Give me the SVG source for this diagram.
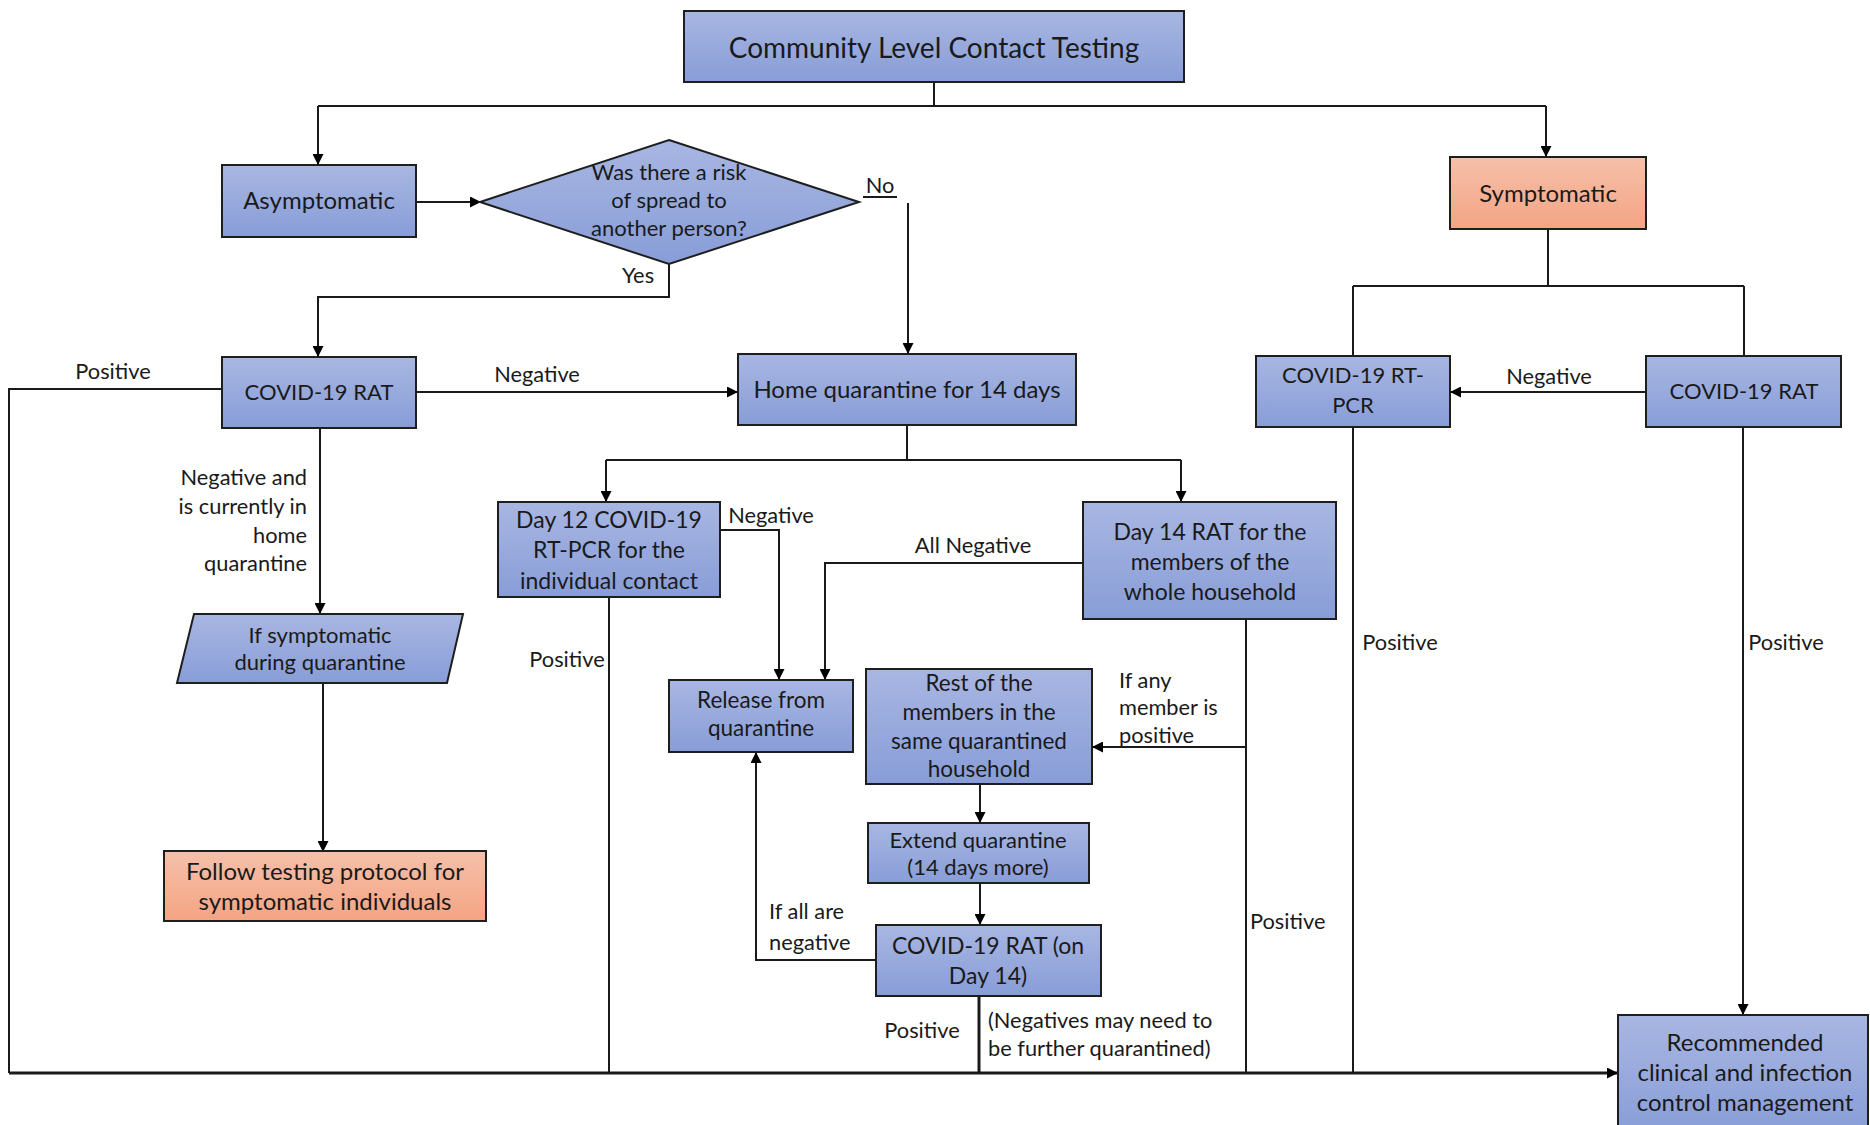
<svg xmlns="http://www.w3.org/2000/svg" width="1870" height="1125" viewBox="0 0 1870 1125">
  <defs>
    <linearGradient id="blueFill" x1="0" y1="0" x2="0" y2="1">
      <stop offset="0" stop-color="#a8b6e2"/>
      <stop offset="1" stop-color="#889dd7"/>
    </linearGradient>
    <linearGradient id="salmonFill" x1="0" y1="0" x2="0" y2="1">
      <stop offset="0" stop-color="#f6c0aa"/>
      <stop offset="1" stop-color="#f4a484"/>
    </linearGradient>
    <marker id="arrow" viewBox="0 0 10 10" refX="10" refY="5" markerWidth="11" markerHeight="11" markerUnits="userSpaceOnUse" orient="auto">
      <path d="M0,0 L10,5 L0,10 z" fill="#000"/>
    </marker>
  </defs>
  <style>
    .box { fill: url(#blueFill); stroke: #1e1e1e; stroke-width: 2; }
    .warm { fill: url(#salmonFill); stroke: #1e1e1e; stroke-width: 2; }
    .t { font-family: Lato, "Liberation Sans", sans-serif; font-size: 24px; fill: #1a1a1a; text-anchor: middle; dominant-baseline: central; }
    .title { font-size: 28px; }
    .s22 { font-size: 22px; }
    .s225 { font-size: 22.5px; }
    .s23 { font-size: 23px; }
    .lbl { font-family: Lato, "Liberation Sans", sans-serif; font-size: 21.8px; fill: #1a1a1a; dominant-baseline: central; }
    .mid { text-anchor: middle; }
    .end { text-anchor: end; }
    .line { fill: none; stroke: #1a1a1a; stroke-width: 2; }
    .thick { fill: none; stroke: #1a1a1a; stroke-width: 3; }
    .arr { marker-end: url(#arrow); }
  </style>

  <rect width="1870" height="1125" fill="#ffffff"/>

  <!-- connectors -->
  <g id="connectors">
    <path class="line" d="M934,82 V106"/>
    <path class="line" d="M318,106 H1546"/>
    <path class="line arr" d="M318,106 V165"/>
    <path class="line arr" d="M1546,106 V157"/>

    <path class="line arr" d="M416,202 H481"/>
    <path class="line" d="M863,197 H897"/>
    <path class="line arr" d="M908,203 V354"/>
    <path class="line arr" d="M669,264 V297 H318 V357"/>

    <path class="line arr" d="M416,392 H738"/>
    <path class="line" d="M222,389 H9 V1073"/>
    <path class="thick arr" d="M9,1073 H1618"/>
    <path class="line arr" d="M320,428 V614"/>
    <path class="line arr" d="M323,683 V852"/>

    <path class="line" d="M907,425 V460"/>
    <path class="line" d="M606,460 H1181"/>
    <path class="line arr" d="M606,460 V502"/>
    <path class="line arr" d="M1181,460 V502"/>

    <path class="line arr" d="M720,530 H779 V680"/>
    <path class="line" d="M609,597 V1073"/>
    <path class="line arr" d="M1083,563 H825 V680"/>
    <path class="line" d="M1246,619 V1073"/>
    <path class="line arr" d="M1246,747 H1092"/>

    <path class="line arr" d="M980,784 V823"/>
    <path class="line arr" d="M980,883 V925"/>
    <path class="line arr" d="M876,960 H756 V752"/>
    <path class="thick" d="M979,996 V1073"/>

    <path class="line" d="M1548,229 V286"/>
    <path class="line" d="M1353,286 H1744"/>
    <path class="line" d="M1353,286 V356"/>
    <path class="line" d="M1744,286 V356"/>
    <path class="line arr" d="M1646,392 H1450"/>
    <path class="line" d="M1353,427 V1073"/>
    <path class="line arr" d="M1743,427 V1015"/>
  </g>

  <!-- connector labels -->
  <g id="labels">
    <text class="lbl mid" x="880" y="184.5">No</text>
    <text class="lbl mid" x="638" y="274.5">Yes</text>
    <text class="lbl mid" x="113" y="370.5">Positive</text>
    <text class="lbl mid" x="537" y="373.5">Negative</text>
    <text class="lbl end" x="307" y="476.5">Negative and</text>
    <text class="lbl end" x="307" y="505.5">is currently in</text>
    <text class="lbl end" x="307" y="534.5">home</text>
    <text class="lbl end" x="307" y="562.5">quarantine</text>
    <text class="lbl mid" x="567" y="658.5">Positive</text>
    <text class="lbl mid" x="771" y="514.5">Negative</text>
    <text class="lbl mid" x="973" y="544.5">All Negative</text>
    <text class="lbl" x="1119" y="679">If any</text>
    <text class="lbl" x="1119" y="706">member is</text>
    <text class="lbl" x="1119" y="734">positive</text>
    <text class="lbl" x="769" y="910.5">If all are</text>
    <text class="lbl" x="769" y="941.5">negative</text>
    <text class="lbl mid" x="922" y="1029.5">Positive</text>
    <text class="lbl" x="988" y="1019.5">(Negatives may need to</text>
    <text class="lbl" x="988" y="1047.5">be further quarantined)</text>
    <text class="lbl" x="1250" y="920.5">Positive</text>
    <text class="lbl mid" x="1400" y="641.5">Positive</text>
    <text class="lbl mid" x="1786" y="641.5">Positive</text>
    <text class="lbl mid" x="1549" y="375.5">Negative</text>
  </g>

  <!-- nodes -->
  <g id="n-title">
    <rect class="box" x="684" y="11" width="500" height="71"/>
    <text class="t title" x="934" y="46.5">Community Level Contact Testing</text>
  </g>
  <g id="n-asymptomatic">
    <rect class="box" x="222" y="165" width="194" height="72"/>
    <text class="t" x="319" y="199.5">Asymptomatic</text>
  </g>
  <g id="n-risk">
    <polygon class="box" points="669,140 859,202 669,264 480,202"/>
    <text class="t s22" x="669" y="171.5">Was there a risk</text>
    <text class="t s22" x="669" y="199.5">of spread to</text>
    <text class="t s22" x="669" y="227.5">another person?</text>
  </g>
  <g id="n-symptomatic">
    <rect class="warm" x="1450" y="157" width="196" height="72"/>
    <text class="t" x="1548" y="192">Symptomatic</text>
  </g>
  <g id="n-rat-left">
    <rect class="box" x="222" y="357" width="194" height="71"/>
    <text class="t s22" x="319" y="391">COVID-19 RAT</text>
  </g>
  <g id="n-home-quarantine">
    <rect class="box" x="738" y="354" width="338" height="71"/>
    <text class="t" x="907" y="388">Home quarantine for 14 days</text>
  </g>
  <g id="n-rtpcr-right">
    <rect class="box" x="1256" y="356" width="194" height="71"/>
    <text class="t s22" x="1353" y="374.5">COVID-19 RT-</text>
    <text class="t s22" x="1353" y="404.5">PCR</text>
  </g>
  <g id="n-rat-right">
    <rect class="box" x="1646" y="356" width="195" height="71"/>
    <text class="t s22" x="1744" y="390">COVID-19 RAT</text>
  </g>
  <g id="n-if-symptomatic">
    <polygon class="box" points="194,614 463,614 447,683 177,683"/>
    <text class="t s22" x="320" y="634">If symptomatic</text>
    <text class="t s22" x="320" y="661">during quarantine</text>
  </g>
  <g id="n-follow-protocol">
    <rect class="warm" x="164" y="851" width="322" height="70"/>
    <text class="t" x="325" y="870">Follow testing protocol for</text>
    <text class="t" x="325" y="900">symptomatic individuals</text>
  </g>
  <g id="n-day12">
    <rect class="box" x="498" y="502" width="222" height="95"/>
    <text class="t s23" x="609" y="519">Day 12 COVID-19</text>
    <text class="t s23" x="609" y="549">RT-PCR for the</text>
    <text class="t s23" x="609" y="580">individual contact</text>
  </g>
  <g id="n-day14">
    <rect class="box" x="1083" y="502" width="253" height="117"/>
    <text class="t s23" x="1210" y="531">Day 14 RAT for the</text>
    <text class="t s23" x="1210" y="561">members of the</text>
    <text class="t s23" x="1210" y="591">whole household</text>
  </g>
  <g id="n-release">
    <rect class="box" x="669" y="680" width="184" height="72"/>
    <text class="t s225" x="761" y="699.5">Release from</text>
    <text class="t s225" x="761" y="727.5">quarantine</text>
  </g>
  <g id="n-rest-members">
    <rect class="box" x="866" y="669" width="226" height="115"/>
    <text class="t s225" x="979" y="682">Rest of the</text>
    <text class="t s225" x="979" y="711">members in the</text>
    <text class="t s225" x="979" y="740">same quarantined</text>
    <text class="t s225" x="979" y="768">household</text>
  </g>
  <g id="n-extend">
    <rect class="box" x="868" y="823" width="221" height="60"/>
    <text class="t s22" x="978" y="839">Extend quarantine</text>
    <text class="t s22" x="978" y="866">(14 days more)</text>
  </g>
  <g id="n-rat-day14">
    <rect class="box" x="876" y="925" width="225" height="71"/>
    <text class="t s23" x="988" y="945">COVID-19 RAT (on</text>
    <text class="t s23" x="988" y="975">Day 14)</text>
  </g>
  <g id="n-recommended">
    <rect class="box" x="1618" y="1015" width="250" height="120"/>
    <text class="t" x="1745" y="1041">Recommended</text>
    <text class="t" x="1745" y="1071">clinical and infection</text>
    <text class="t" x="1745" y="1101">control management</text>
  </g>
</svg>
